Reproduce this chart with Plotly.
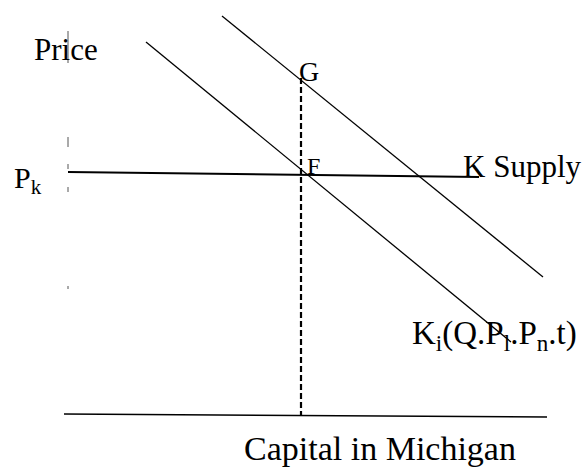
import plotly.graph_objects as go

# Diagrama: oferta de capital e demanda em Michigan
# coordenadas no plano (capital, preço), origem no cruzamento dos eixos

# curvas de demanda de capital
demand_1_x = [78, 443]
demand_1_y = [373, 73]
demand_2_x = [154, 475]
demand_2_y = [399, 138]

# oferta de capital (horizontal em P_k)
supply_x = [0, 411]
supply_y = [243, 238]

# linha tracejada de G até o eixo
drop_x = [233, 233]
drop_y = [337, 0]

# eixo horizontal
axis_x = [-4, 479]
axis_y = [1, -2]

# marcas pontilhadas do eixo vertical (restos do scan)
vaxis_x = [0, 0, None, 0, 0, None, 0, 0, None, 0, 0, None, 0, 0]
vaxis_y = [384, 352, None, 278, 268, None, 251, 246, None, 228, 223, None, 129, 126]

# rótulos
labels = ["Price", "G", "F", "K Supply", "P<sub>k</sub>",
          "K<sub>i</sub>(Q.P<sub>l</sub>.P<sub>n</sub>.t)", "Capital in Michigan"]
label_x = [-2, 241, 245, 454, -40, 426, 312]
label_y = [366, 344, 249, 249, 235, 80, -33]
label_size = [31, 28, 24, 31, 30, 33, 34]

fig = go.Figure()

fig.add_trace(go.Scatter(x=demand_1_x, y=demand_1_y, mode="lines",
                         line=dict(color="black", width=1.3)))
fig.add_trace(go.Scatter(x=demand_2_x, y=demand_2_y, mode="lines",
                         line=dict(color="black", width=1.3)))
fig.add_trace(go.Scatter(x=supply_x, y=supply_y, mode="lines",
                         line=dict(color="black", width=2)))
fig.add_trace(go.Scatter(x=drop_x, y=drop_y, mode="lines",
                         line=dict(color="black", width=2.2, dash="6px,3px")))
fig.add_trace(go.Scatter(x=axis_x, y=axis_y, mode="lines",
                         line=dict(color="black", width=1.6)))
fig.add_trace(go.Scatter(x=vaxis_x, y=vaxis_y, mode="lines",
                         line=dict(color="#555555", width=1)))

for txt, lx, ly, sz in zip(labels, label_x, label_y, label_size):
    fig.add_annotation(x=lx, y=ly, text=txt, showarrow=False,
                       xref="x", yref="y",
                       font=dict(family="Liberation Serif", size=sz, color="black"))

fig.update_layout(
    width=587,
    height=470,
    margin=dict(l=0, r=0, t=0, b=0),
    showlegend=False,
    plot_bgcolor="white",
    paper_bgcolor="white",
)
fig.update_xaxes(range=[-68, 519], visible=False)
fig.update_yaxes(range=[-55, 415], visible=False)

fig.write_html("out.html", config={"displayModeBar": False},
               post_script="document.body.style.margin='0';")
